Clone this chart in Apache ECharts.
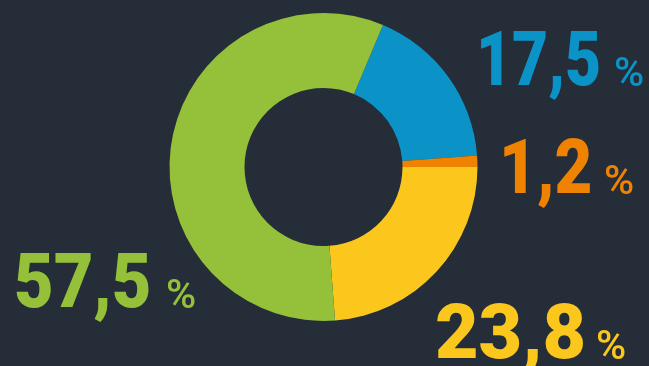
<!DOCTYPE html>
<html>
<head>
<meta charset="utf-8">
<script src="https://cdn.jsdelivr.net/npm/echarts@6/dist/echarts.min.js"></script>
<style>
html,body{margin:0;padding:0;background:#242d38;}
#chart{width:649px;height:366px;}
</style>
</head>
<body>
<div id="chart"></div>
<script>
const categories = ['Blue', 'Orange', 'Yellow', 'Green'];
const values = [17.5, 1.2, 23.8, 57.5];
const valueLabels = ['17,5', '1,2', '23,8', '57,5'];
const unitLabel = '%';
const colors = ['#0b93c8', '#ef8200', '#fcc71c', '#95c13a'];
// label placement (number left x, text middle y, horizontal squeeze; percent sign left x)
const numX = [476, 499, 435, 14];
const numY = [66, 174, 339, 288];
const numScale = [0.82, 0.86, 0.99, 0.9];
const pctX = [614, 604, 596, 166];

const chart = echarts.init(document.getElementById('chart'));
const data = categories.map((c, i) => ({
  name: c,
  value: values[i],
  itemStyle: { color: colors[i] }
}));
const graphics = [];
categories.forEach((c, i) => {
  graphics.push({
    type: 'text',
    x: numX[i],
    y: numY[i],
    scaleX: numScale[i],
    silent: true,
    style: {
      text: valueLabels[i],
      fill: colors[i],
      font: '900 76px Roboto',
      align: 'left',
      verticalAlign: 'middle'
    }
  });
  graphics.push({
    type: 'text',
    x: pctX[i],
    y: numY[i] + 10,
    silent: true,
    style: {
      text: unitLabel,
      fill: colors[i],
      font: '500 41px Roboto',
      align: 'left',
      verticalAlign: 'middle'
    }
  });
});
chart.setOption({
  backgroundColor: '#242d38',
  animation: false,
  graphic: graphics,
  series: [{
    type: 'pie',
    center: [323.5, 167],
    radius: [79, 154],
    startAngle: 67.3,
    clockwise: true,
    silent: true,
    data: data,
    label: { show: false },
    labelLine: { show: false }
  }]
});
</script>
</body>
</html>
